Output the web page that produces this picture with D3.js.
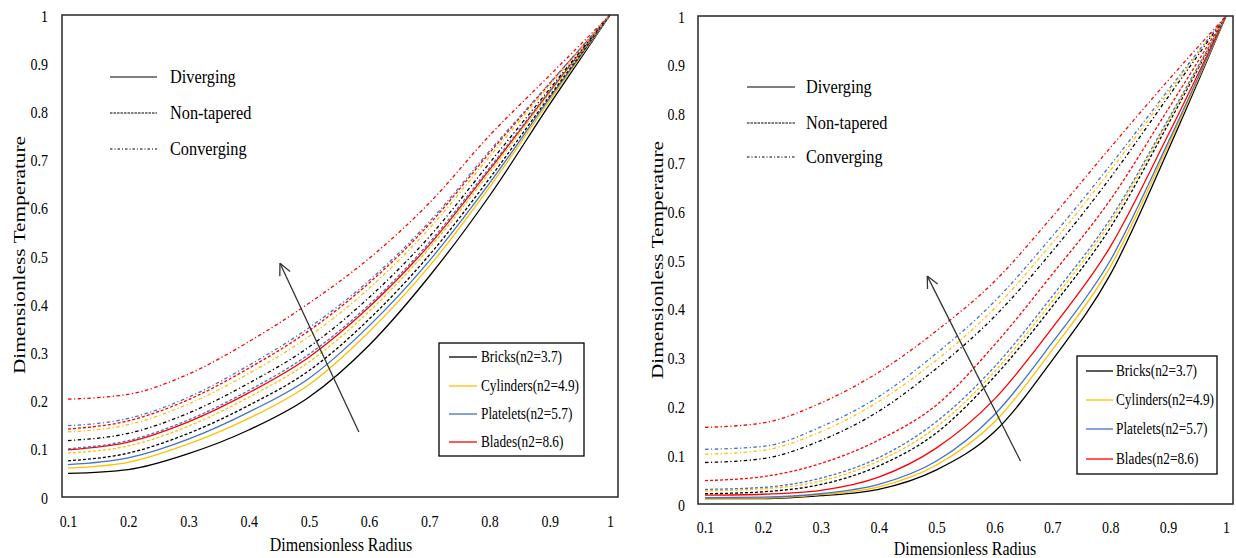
<!DOCTYPE html>
<html>
<head>
<meta charset="utf-8">
<script src="https://cdn.jsdelivr.net/npm/d3@7"></script>
<style>
  body { margin: 0; background: #fff; }
  svg text { font-family: "Liberation Serif", "Times New Roman", serif; fill: #000; }
</style>
</head>
<body>
<div id="chart"></div>
<script>
const W = 1236, H = 558;
const VSCALE = 1.22;   // the picture is stretched vertically
const SERIF = '"Liberation Serif", "Times New Roman", serif';

const xValues = [0.1, 0.2, 0.3, 0.4, 0.5, 0.6, 0.7, 0.8, 0.9, 1];
const xTicks = [0.1, 0.2, 0.3, 0.4, 0.5, 0.6, 0.7, 0.8, 0.9, 1];
const yTicks = [0, 0.1, 0.2, 0.3, 0.4, 0.5, 0.6, 0.7, 0.8, 0.9, 1];

const materials = ["Bricks(n2=3.7)", "Cylinders(n2=4.9)", "Platelets(n2=5.7)", "Blades(n2=8.6)"];
const materialColors = ["#000000", "#FFC000", "#4472C4", "#FF0000"];
const shapes = ["Diverging", "Non-tapered", "Converging"];
const shapeDash = [null, "3,2", "3.5,2.5,1.2,2.5"];
const legendDash = [null, "2.5,1", "2.5,2,1,2"];

// rows: bricks, cylinders, platelets, blades
const leftDiverging = [
  [0.049, 0.057, 0.090, 0.139, 0.207, 0.315, 0.458, 0.625, 0.815, 1],
  [0.060, 0.072, 0.110, 0.163, 0.233, 0.343, 0.479, 0.643, 0.823, 1],
  [0.067, 0.081, 0.120, 0.176, 0.246, 0.355, 0.490, 0.651, 0.828, 1],
  [0.098, 0.114, 0.156, 0.216, 0.290, 0.394, 0.523, 0.679, 0.841, 1]
];
const leftNonTapered = [
  [0.075, 0.091, 0.132, 0.190, 0.262, 0.369, 0.502, 0.661, 0.832, 1],
  [0.091, 0.106, 0.147, 0.207, 0.280, 0.385, 0.516, 0.673, 0.838, 1],
  [0.100, 0.117, 0.160, 0.221, 0.296, 0.399, 0.528, 0.683, 0.843, 1],
  [0.141, 0.158, 0.202, 0.267, 0.345, 0.444, 0.566, 0.714, 0.858, 1]
];
const leftConverging = [
  [0.117, 0.132, 0.174, 0.236, 0.311, 0.414, 0.540, 0.693, 0.847, 1],
  [0.135, 0.150, 0.193, 0.256, 0.333, 0.433, 0.557, 0.706, 0.854, 1],
  [0.148, 0.163, 0.207, 0.273, 0.351, 0.449, 0.571, 0.718, 0.859, 1],
  [0.203, 0.213, 0.255, 0.322, 0.402, 0.495, 0.610, 0.750, 0.875, 1]
];

const rightDiverging = [
  [0.011, 0.011, 0.017, 0.030, 0.070, 0.148, 0.295, 0.470, 0.725, 1],
  [0.012, 0.012, 0.019, 0.035, 0.080, 0.168, 0.316, 0.486, 0.734, 1],
  [0.013, 0.014, 0.021, 0.040, 0.088, 0.183, 0.331, 0.499, 0.741, 1],
  [0.018, 0.020, 0.028, 0.055, 0.115, 0.215, 0.361, 0.527, 0.756, 1]
];
const rightNonTapered = [
  [0.021, 0.025, 0.040, 0.078, 0.146, 0.261, 0.405, 0.566, 0.778, 1],
  [0.027, 0.031, 0.047, 0.088, 0.158, 0.271, 0.416, 0.577, 0.784, 1],
  [0.030, 0.034, 0.053, 0.095, 0.169, 0.281, 0.426, 0.584, 0.788, 1],
  [0.048, 0.056, 0.083, 0.131, 0.203, 0.326, 0.471, 0.623, 0.809, 1]
];
const rightConverging = [
  [0.085, 0.093, 0.130, 0.190, 0.278, 0.384, 0.518, 0.668, 0.834, 1],
  [0.102, 0.110, 0.148, 0.210, 0.295, 0.401, 0.535, 0.683, 0.842, 1],
  [0.112, 0.118, 0.158, 0.220, 0.309, 0.415, 0.549, 0.694, 0.848, 1],
  [0.157, 0.166, 0.207, 0.270, 0.355, 0.456, 0.589, 0.730, 0.868, 1]
];

// arrow annotations in data units: [tail, head]
const leftArrow = [[0.583, 0.135], [0.452, 0.485]];
const rightArrow = [[0.645, 0.088], [0.484, 0.467]];

const panels = [
  {
    series: [leftDiverging, leftNonTapered, leftConverging],
    arrow: leftArrow,
    frame: { left: 62, right: 618, top: 15, bottom: 497 },
    xRange: [68, 610],
    xLabelBase: 30, yLabelPad: 14,
    yTitle: [24.5, 255], xTitle: [341, 551],
    topLegend: { x: 110, len: 47, rows: [77, 113, 149], textX: 170 },
    box: { x: 439, y: 343, w: 145, h: 113, lineX: 449, lineLen: 28, rows: [357, 386, 414, 442], textX: 481 }
  },
  {
    series: [rightDiverging, rightNonTapered, rightConverging],
    arrow: rightArrow,
    frame: { left: 698, right: 1233, top: 16, bottom: 504 },
    xRange: [705, 1226],
    xLabelBase: 29, yLabelPad: 13,
    yTitle: [663, 260], xTitle: [965, 555],
    topLegend: { x: 747, len: 48, rows: [87, 123, 157], textX: 806 },
    box: { x: 1077, y: 356, w: 140, h: 118, lineX: 1086, lineLen: 27, rows: [371, 400, 429, 459], textX: 1116 }
  }
];

const svg = d3.select("#chart").append("svg")
  .attr("width", W)
  .attr("height", H);

function stretchedText(g, x, y, str, size, anchor) {
  return g.append("text")
    .attr("transform", `translate(${x},${y}) scale(1,${VSCALE})`)
    .attr("text-anchor", anchor || "start")
    .style("font-family", SERIF)
    .style("font-size", size + "px")
    .text(str);
}

function drawPanel(p) {
  const f = p.frame;
  const x = d3.scaleLinear().domain([0.1, 1]).range(p.xRange);
  const y = d3.scaleLinear().domain([0, 1]).range([f.bottom, f.top]);
  const g = svg.append("g");

  // axes (labels only, no tick marks)
  const xAxis = g.append("g")
    .attr("transform", `translate(0,${f.bottom})`)
    .call(d3.axisBottom(x).tickValues(xTicks).tickSize(0).tickFormat(d => String(d)));
  xAxis.attr("font-family", null);
  xAxis.select(".domain").remove();
  xAxis.selectAll(".tick text")
    .attr("y", 0).attr("dy", null)
    .attr("transform", `translate(0,${p.xLabelBase}) scale(1,${VSCALE})`)
    .style("font-family", SERIF)
    .style("font-size", "14px");

  const yAxis = g.append("g")
    .attr("transform", `translate(${f.left},0)`)
    .call(d3.axisLeft(y).tickValues(yTicks).tickSize(0).tickPadding(p.yLabelPad).tickFormat(d => String(d)));
  yAxis.attr("font-family", null);
  yAxis.select(".domain").remove();
  yAxis.selectAll(".tick text")
    .attr("dy", "0.36em")
    .attr("transform", `scale(1,${VSCALE})`)
    .style("font-family", SERIF)
    .style("font-size", "14px");

  // series lines: solid first, then dashed, then dash-dot
  const line = d3.line()
    .x((d, i) => x(xValues[i]))
    .y(d => y(d))
    .curve(d3.curveMonotoneX);

  p.series.forEach((group, s) => {
    group.forEach((vals, m) => {
      g.append("path")
        .datum(vals)
        .attr("d", line)
        .attr("fill", "none")
        .attr("stroke", materialColors[m])
        .attr("stroke-width", 1.3)
        .attr("stroke-dasharray", shapeDash[s]);
    });
  });

  // frame
  g.append("rect")
    .attr("x", f.left).attr("y", f.top)
    .attr("width", f.right - f.left).attr("height", f.bottom - f.top)
    .attr("fill", "none")
    .attr("stroke", "#333")
    .attr("stroke-width", 1.6);

  // arrow
  const [tail, head] = p.arrow;
  const tx = x(tail[0]), ty = y(tail[1]), hx = x(head[0]), hy = y(head[1]);
  g.append("line")
    .attr("x1", tx).attr("y1", ty).attr("x2", hx).attr("y2", hy)
    .attr("stroke", "#333").attr("stroke-width", 1.3);
  const ang = Math.atan2(ty - hy, tx - hx);
  [-0.45, 0.45].forEach(da => {
    g.append("line")
      .attr("x1", hx).attr("y1", hy)
      .attr("x2", hx + 13 * Math.cos(ang + da))
      .attr("y2", hy + 13 * Math.sin(ang + da))
      .attr("stroke", "#333").attr("stroke-width", 1.3);
  });

  // axis titles
  stretchedText(g, p.xTitle[0], p.xTitle[1], "Dimensionless Radius", 16, "middle");
  g.append("text")
    .attr("transform", `translate(${p.yTitle[0]},${p.yTitle[1]}) rotate(-90) scale(${VSCALE},1)`)
    .attr("text-anchor", "middle")
    .style("font-family", SERIF)
    .style("font-size", "17.5px")
    .text("Dimensionless Temperature");

  // shape legend (top left)
  const tl = p.topLegend;
  shapes.forEach((name, i) => {
    g.append("line")
      .attr("x1", tl.x).attr("x2", tl.x + tl.len)
      .attr("y1", tl.rows[i]).attr("y2", tl.rows[i])
      .attr("stroke", "#000").attr("stroke-width", 1.2)
      .attr("stroke-dasharray", legendDash[i]);
    stretchedText(g, tl.textX, tl.rows[i] + 6, name, 16.3);
  });

  // material legend box
  const b = p.box;
  g.append("rect")
    .attr("x", b.x).attr("y", b.y).attr("width", b.w).attr("height", b.h)
    .attr("fill", "#fff").attr("stroke", "#000").attr("stroke-width", 1.3);
  materials.forEach((name, i) => {
    g.append("line")
      .attr("x1", b.lineX).attr("x2", b.lineX + b.lineLen)
      .attr("y1", b.rows[i]).attr("y2", b.rows[i])
      .attr("stroke", materialColors[i]).attr("stroke-width", 1.3);
    stretchedText(g, b.textX, b.rows[i] + 5.3, name, 13.3);
  });
}

panels.forEach(drawPanel);
</script>
</body>
</html>
